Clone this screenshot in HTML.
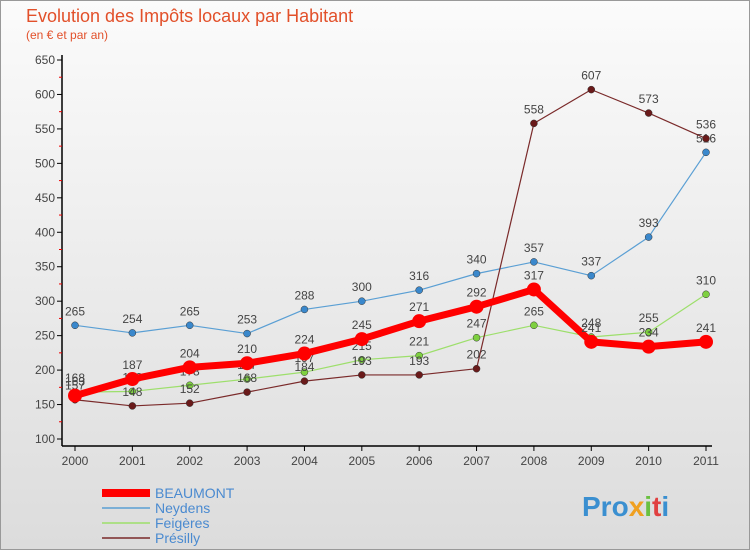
<!DOCTYPE html>
<html><head><meta charset="utf-8"><style>
body{margin:0;width:750px;height:550px;overflow:hidden;font-family:"Liberation Sans",sans-serif}
</style></head><body>
<svg width="750" height="550" xmlns="http://www.w3.org/2000/svg">
<defs><linearGradient id="bg" x1="0" y1="0" x2="0" y2="1"><stop offset="0" stop-color="#fbfbfb"/><stop offset="1" stop-color="#dcdcdc"/></linearGradient></defs>
<rect x="0.5" y="0.5" width="749" height="549" fill="url(#bg)" stroke="#999"/>
<text x="26" y="22" font-size="18" fill="#e2502a">Evolution des Impôts locaux par Habitant</text>
<text x="26" y="39" font-size="12" fill="#e2502a">(en € et par an)</text>
<g id="axes"></g>
<g id="series"></g>
<g font-size="14" fill="#4a8ad0">
<line x1="102" y1="493" x2="150" y2="493" stroke="#f00" stroke-width="8"/>
<text x="155" y="498">BEAUMONT</text>
<line x1="102" y1="508" x2="150" y2="508" stroke="#5a9fd4" stroke-width="1.5"/>
<text x="155" y="513">Neydens</text>
<line x1="102" y1="523" x2="150" y2="523" stroke="#9ddf6b" stroke-width="1.5"/>
<text x="155" y="528">Feigères</text>
<line x1="102" y1="538" x2="150" y2="538" stroke="#7a2a2a" stroke-width="1.5"/>
<text x="155" y="543">Présilly</text>
</g>
<text x="582" y="516" font-size="28" font-weight="bold" fill="#3a8fd0">Pro<tspan fill="#f0a020">x</tspan><tspan fill="#6ac040">i</tspan><tspan fill="#e04040">t</tspan><tspan fill="#3a8fd0">i</tspan></text>
</svg>
<script>
const years=["2000","2001","2002","2003","2004","2005","2006","2007","2008","2009","2010","2011"];
const yTicks=[100,150,200,250,300,350,400,450,500,550,600,650];
const beaumont=[163,187,204,210,224,245,271,292,317,241,234,241];
const neydens=[265,254,265,253,288,300,316,340,357,337,393,516];
const feigeres=[168,169,178,187,197,215,221,247,265,248,255,310];
const presilly=[157,148,152,168,184,193,193,202,558,607,573,536];
const NS="http://www.w3.org/2000/svg";
const x=i=>75+i*(706-75)/11;
const y=v=>439-(v-100)*(439-60)/550;
function mk(t,a,p){const e=document.createElementNS(NS,t);for(const k in a)e.setAttribute(k,a[k]);p.appendChild(e);return e;}
const ax=document.getElementById('axes');
mk('line',{x1:62,y1:55,x2:62,y2:446,stroke:'#000','stroke-width':1.5},ax);
mk('line',{x1:62,y1:446,x2:712,y2:446,stroke:'#000','stroke-width':1.5},ax);
yTicks.forEach(v=>{
 mk('line',{x1:57,y1:y(v),x2:62,y2:y(v),stroke:'#000'},ax);
 const t=mk('text',{x:55,y:y(v)+4,'text-anchor':'end','font-size':12,fill:'#444'},ax);
 
 
 t.textContent=v;
 if(v<650){mk('line',{x1:59,y1:y(v+25),x2:62,y2:y(v+25),stroke:'#e00'},ax);}
});
years.forEach((yr,i)=>{
 mk('line',{x1:x(i),y1:446,x2:x(i),y2:451,stroke:'#000'},ax);
 const t=mk('text',{x:x(i),y:465,'text-anchor':'middle','font-size':12,fill:'#444'},ax);
 
 
 t.textContent=yr;
});
const sg=document.getElementById('series');
function draw(data,name,color,w,r,pc){
 const g=mk('g',{},sg);
 
 
 mk('polyline',{points:data.map((v,i)=>x(i)+','+y(v)).join(' '),fill:'none',stroke:color,'stroke-width':w,'stroke-linejoin':'round'},g);
 data.forEach((v,i)=>{
  const c=mk('circle',{cx:x(i),cy:y(v),r:r,fill:pc,stroke:'#333','stroke-width':r>5?0:0.5},g);
  
  
  const t=mk('text',{x:x(i),y:y(v)-10,'text-anchor':'middle','font-size':12,fill:'#444'},g);
  
  
  t.textContent=v;
 });
}
draw(neydens,'neydens','#5a9fd4',1.2,3.5,'#3a88cc');
draw(feigeres,'feigeres','#9ddf6b',1.2,3.5,'#7ed040');
draw(presilly,'presilly','#7a2a2a',1.2,3.5,'#6a1a1a');
draw(beaumont,'beaumont','#f00',7,7,'#f00');
</script>
</body></html>
